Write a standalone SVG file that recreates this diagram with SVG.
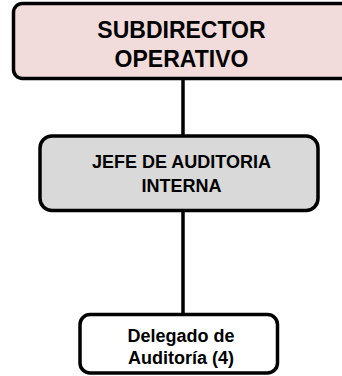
<svg xmlns="http://www.w3.org/2000/svg" width="342" height="376" viewBox="0 0 342 376">
<style>
.box{stroke:#000;stroke-width:3.5}
.t{font-family:"Liberation Sans",Arial,sans-serif;font-weight:bold;fill:#000;text-anchor:middle}
.c{stroke:#000;stroke-width:3.5;fill:none}
</style>
<rect width="342" height="376" fill="#fff"/>
<g id="connectors">
<line class="c" x1="183" y1="79" x2="183" y2="135"/>
<line class="c" x1="183" y1="211" x2="183" y2="315"/>
</g>
<g id="subdirector">
<rect class="box" x="13.5" y="3.5" width="345" height="75" rx="9" fill="#F2DCDB"/>
<text class="t" x="181.5" y="37.5" font-size="23">SUBDIRECTOR</text>
<text class="t" x="181.5" y="66.5" font-size="23">OPERATIVO</text>
</g>
<g id="jefe">
<rect class="box" x="40" y="136" width="278" height="74.5" rx="12" fill="#D9D9D9"/>
<text class="t" x="181.5" y="167.5" font-size="18">JEFE DE AUDITORIA</text>
<text class="t" x="181.5" y="192" font-size="18">INTERNA</text>
</g>
<g id="delegado">
<rect class="box" x="80" y="314.5" width="197.5" height="58.5" rx="10" fill="#fff"/>
<text class="t" x="181" y="341.5" font-size="18">Delegado de</text>
<text class="t" x="181" y="364" font-size="18">Auditoría (4)</text>
</g>
</svg>
